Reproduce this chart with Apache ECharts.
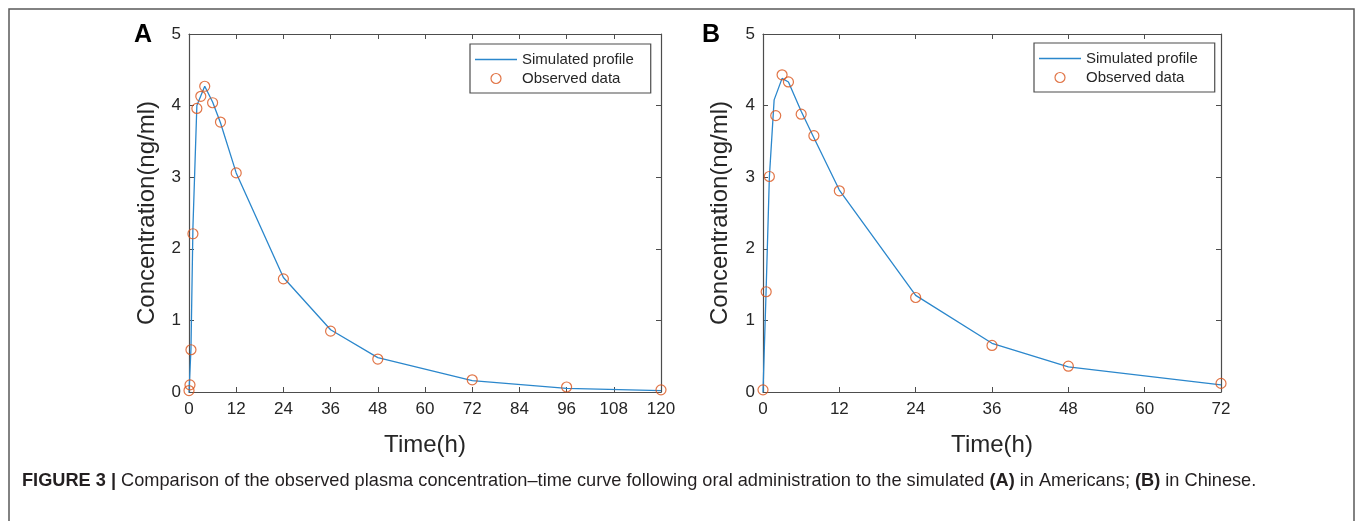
<!DOCTYPE html>
<html>
<head>
<meta charset="utf-8">
<script src="https://cdn.jsdelivr.net/npm/echarts@6/dist/echarts.min.js"></script>
<style>html,body{margin:0;padding:0;background:#fff}#c{width:1355px;height:521px}</style>
</head>
<body>
<div id="c"></div>
<script>
// Panel A (Americans)
const simA = [[0,0],[0.5,0.6],[1,2.3],[2,4.0],[4,4.27],[6,4.05],[8,3.76],[12,3.06],[24,1.6],[36,0.87],[48,0.48],[72,0.16],[96,0.05],[120,0.02]];
const obsA = [[0,0.02],[0.25,0.1],[0.5,0.59],[1,2.21],[2,3.96],[3,4.13],[4,4.27],[6,4.04],[8,3.77],[12,3.06],[24,1.58],[36,0.85],[48,0.46],[72,0.17],[96,0.07],[120,0.03]];
// Panel B (Chinese)
const simB = [[0,0],[0.5,1.45],[1,3.0],[1.75,4.08],[3,4.38],[4,4.33],[6,3.92],[8,3.55],[12,2.82],[24,1.35],[36,0.68],[48,0.35],[72,0.1]];
const obsB = [[0,0.03],[0.5,1.4],[1,3.01],[2,3.86],[3,4.43],[4,4.33],[6,3.88],[8,3.58],[12,2.81],[24,1.32],[36,0.65],[48,0.36],[72,0.12]];
const xMaxA = 120, xMaxB = 72, xStep = 12;
const yMin = 0, yMax = 5, yStep = 1;
const names = ['Simulated profile', 'Observed data'];
const caption = ['FIGURE 3 | ', 'Comparison of the observed plasma concentration\u2013time curve following oral administration to the simulated ', '(A)', ' in Americans; ', '(B)', ' in Chinese.'];

const FONT = 'Liberation Sans, Arial, sans-serif';
const AX = '#262626';
const BOX = '#4d4d4d';
const BLUE = '#2b87cc';
const ORANGE = '#D95319';

function xAxes(gi, max) {
  return [{
    gridIndex: gi, type: 'value', min: 0, max: max, interval: xStep,
    name: 'Time(h)', nameLocation: 'middle', nameGap: 41,
    nameTextStyle: {fontFamily: FONT, fontSize: 24, color: AX},
    axisLine: {onZero: false, lineStyle: {color: BOX, width: 1.2}},
    axisTick: {inside: true, length: 5, lineStyle: {color: BOX}},
    axisLabel: {fontFamily: FONT, fontSize: 17, color: AX, margin: 9},
    splitLine: {show: false}
  }, {
    gridIndex: gi, type: 'value', min: 0, max: max, interval: xStep, position: 'top',
    axisLine: {onZero: false, lineStyle: {color: BOX, width: 1.2}},
    axisTick: {inside: true, length: 5, lineStyle: {color: BOX}},
    axisLabel: {show: false}, splitLine: {show: false}
  }];
}
function yAxes(gi, gap) {
  return [{
    gridIndex: gi, type: 'value', min: yMin, max: yMax, interval: yStep,
    name: 'Concentration(ng/ml)', nameLocation: 'middle', nameGap: gap,
    nameTextStyle: {fontFamily: FONT, fontSize: 24, color: AX},
    axisLine: {show: true, onZero: false, lineStyle: {color: BOX, width: 1.2}},
    axisTick: {show: true, inside: true, length: 5, lineStyle: {color: BOX}},
    axisLabel: {fontFamily: FONT, fontSize: 17, color: AX, margin: 8},
    splitLine: {show: false}
  }, {
    gridIndex: gi, type: 'value', min: yMin, max: yMax, interval: yStep, position: 'right',
    axisLine: {show: true, onZero: false, lineStyle: {color: BOX, width: 1.2}},
    axisTick: {show: true, inside: true, length: 5, lineStyle: {color: BOX}},
    axisLabel: {show: false}, splitLine: {show: false}
  }];
}
function legendFor(left, top) {
  return {
    left: left, top: top, orient: 'vertical', data: [
      {name: names[0], icon: 'path://M0,0 L40,0 L40,1.5 L0,1.5 Z', itemStyle: {color: BLUE}},
      {name: names[1], icon: 'circle', itemStyle: {color: '#fff', borderColor: ORANGE, borderWidth: 1.2}}
    ],
    itemWidth: 42, itemHeight: 10, itemGap: 4,
    borderColor: BOX, borderWidth: 1.2, backgroundColor: '#fff',
    padding: [8, 17, 7, 5], selectedMode: false,
    textStyle: {fontFamily: FONT, fontSize: 15, color: AX}
  };
}
function lineS(xi, yi, data) {
  return {name: names[0], type: 'line', xAxisIndex: xi, yAxisIndex: yi, data: data,
    symbol: 'none', lineStyle: {color: BLUE, width: 1.3}, itemStyle: {color: BLUE}, animation: false, z: 2};
}
function scatS(xi, yi, data) {
  return {name: names[1], type: 'scatter', xAxisIndex: xi, yAxisIndex: yi, data: data,
    symbol: 'circle', symbolSize: 10,
    itemStyle: {color: 'rgba(255,255,255,0)', borderColor: ORANGE, borderWidth: 1.2}, animation: false, z: 3};
}

const chart = echarts.init(document.getElementById('c'), null, {renderer: 'canvas'});
chart.setOption({
  backgroundColor: '#fff',
  animation: false,
  grid: [
    {left: 189, top: 34, width: 472, height: 358},
    {left: 763, top: 34, width: 458, height: 358}
  ],
  xAxis: [].concat(xAxes(0, xMaxA), xAxes(1, xMaxB)),
  yAxis: [].concat(yAxes(0, 30), yAxes(1, 31)),
  legend: [legendFor(470, 44), legendFor(1034, 43)],
  series: [lineS(0, 0, simA), scatS(0, 0, obsA), lineS(2, 2, simB), scatS(2, 2, obsB)],
  graphic: [
    {type: 'rect', shape: {x: 9, y: 9, width: 1345, height: 600}, style: {fill: 'none', stroke: '#5a5a5a', lineWidth: 1.5}, silent: true},
    {type: 'text', left: 134, top: 23, style: {text: 'A', fontFamily: FONT, fontSize: 25, fontWeight: 'bold', fill: '#000'}},
    {type: 'text', left: 702, top: 23, style: {text: 'B', fontFamily: FONT, fontSize: 25, fontWeight: 'bold', fill: '#000'}},
    {type: 'text', left: 22, top: 472, style: {
      text: '{b|' + caption[0] + '}' + caption[1] + '{b|' + caption[2] + '}' + caption[3] + '{b|' + caption[4] + '}' + caption[5],
      fontFamily: FONT, fontSize: 18.2, fill: '#231f20',
      rich: {b: {fontFamily: FONT, fontSize: 18.2, fontWeight: 'bold', fill: '#231f20'}}
    }}
  ]
});
</script>
</body>
</html>
